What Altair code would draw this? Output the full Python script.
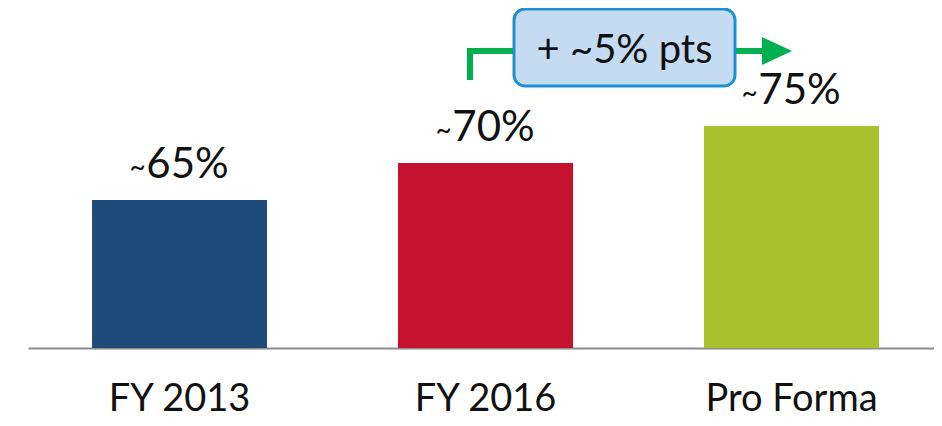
import altair as alt
import pandas as pd

categories = ["FY 2013", "FY 2016", "Pro Forma"]
values = [65, 70, 75]
colors = ["#1f4b7a", "#c5132f", "#a9c12c"]
annotation_text = "+ ~5% pts"

df = pd.DataFrame({"cat": categories, "val": values,
                   "label": [f"{v}%" for v in values], "tilde": ["~"] * 3})

x = alt.X("cat:N", sort=categories, title=None,
          scale=alt.Scale(paddingInner=0.428, paddingOuter=0.1945, align=0.538),
          axis=alt.Axis(labelAngle=0, ticks=False, tickSize=0, domainColor="#8c8c8c",
                        domainWidth=2, labelFont="Lato", labelFontSize=38,
                        labelColor="#111111", labelBaseline="alphabetic",
                        labelPadding=62, grid=False))
y = alt.Y("val:Q", scale=alt.Scale(domain=[45, 89.86], zero=False, nice=False),
          axis=None)

bars = alt.Chart(df).mark_bar().encode(
    x=x, y=y, y2=alt.datum(45),
    color=alt.Color("cat:N", scale=alt.Scale(domain=categories, range=colors), legend=None),
)

vals = alt.Chart(df).mark_text(font="Lato", fontSize=42, baseline="alphabetic",
                               dy=-22, dx=8, color="#111111").encode(
    x=alt.X("cat:N", sort=categories), y="val:Q", text="label:N")
tildes = alt.Chart(df).mark_text(font="Lato", fontSize=28, baseline="alphabetic",
                                 dy=-23, dx=-42, color="#111111").encode(
    x=alt.X("cat:N", sort=categories), y="val:Q", text="tilde:N")

green = "#00b050"
one = pd.DataFrame({"a": [0]})
vline = alt.Chart(one).mark_rule(color=green, strokeWidth=6).encode(
    x=alt.value(442), y=alt.value(32), y2=alt.value(64))
hline1 = alt.Chart(one).mark_rule(color=green, strokeWidth=6).encode(
    x=alt.value(439), x2=alt.value(486), y=alt.value(35))
hline2 = alt.Chart(one).mark_rule(color=green, strokeWidth=6).encode(
    x=alt.value(707), x2=alt.value(736), y=alt.value(35))
head = alt.Chart(one).mark_point(shape="M-1,-0.93L1,0L-1,0.93Z", size=900, filled=True,
                                 color=green, opacity=1).encode(
    x=alt.value(749), y=alt.value(35))
box = alt.Chart(one).mark_rect(fill="#c5dbf1", stroke="#1e8fd3", strokeWidth=3,
                               cornerRadius=11).encode(
    x=alt.value(486), x2=alt.value(707), y=alt.value(-7), y2=alt.value(70))
boxtext = alt.Chart(one).mark_text(font="Lato", fontSize=40, baseline="alphabetic",
                                   color="#111111", text=annotation_text).encode(
    x=alt.value(596.5), y=alt.value(47))

chart = alt.layer(bars, vals, tildes, vline, hline1, hline2, head, box, boxtext).properties(
    width=906, height=332,
    background="white",
    padding={"left": 20, "top": 8, "right": 0, "bottom": 70},
    autosize=alt.AutoSizeParams(type="none"),
).configure_view(strokeWidth=0, stroke="transparent")

chart.save("out.html", embed_options={"renderer": "svg", "actions": False})
